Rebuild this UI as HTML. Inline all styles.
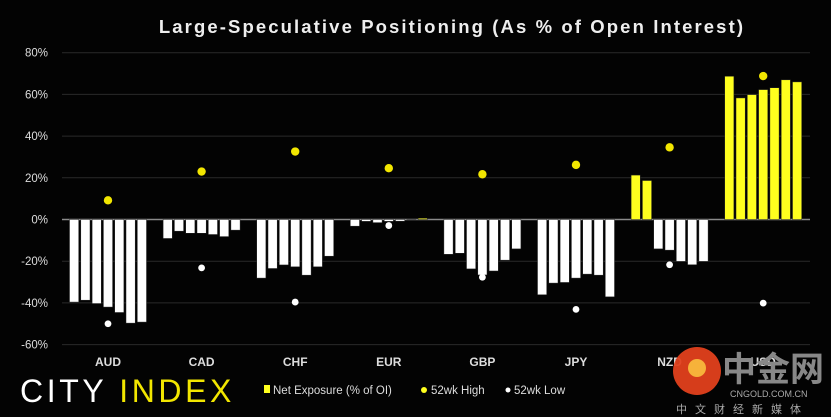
<!DOCTYPE html>
<html><head><meta charset="utf-8"><style>
html,body{margin:0;padding:0;background:#030303;width:831px;height:417px;overflow:hidden}
svg text{font-family:"Liberation Sans","Noto Sans CJK SC",sans-serif}
</style></head><body>
<svg id="chart" width="831" height="417" viewBox="0 0 831 417" xmlns="http://www.w3.org/2000/svg">
<rect width="831" height="417" fill="#030303"/>
<text x="452" y="33" text-anchor="middle" fill="#eee" font-size="18.5" font-weight="bold" letter-spacing="2.1">Large-Speculative Positioning (As % of Open Interest)</text>
<g id="grid"></g><g id="bars"></g><g id="dots"></g><g id="xlabels"></g>
<g>
<text x="20" y="402" fill="#fff" font-size="32" letter-spacing="3.6">CITY <tspan fill="#f2e600">INDEX</tspan></text>
</g>
<g font-size="11.5" fill="#ddd">
<g><rect x="264" y="385" width="6" height="8" fill="#ffff1e"/><text x="273" y="394" fill="#ddd">Net Exposure (% of OI)</text></g>
<g><circle cx="424" cy="390" r="3" fill="#ffff1e"/><text x="431" y="394" fill="#ddd">52wk High</text></g>
<g><circle cx="508" cy="390" r="2.5" fill="#fff"/><text x="514" y="394" fill="#ddd">52wk Low</text></g>
</g>
<g>
<circle cx="697" cy="371" r="24" fill="#e2401c" opacity="0.95"/>
<circle cx="697" cy="368" r="9" fill="#f6b23a"/>
<text x="722" y="381" fill="#888" font-size="34" font-weight="bold" font-family="'Noto Sans CJK SC',sans-serif">中金网</text>
<text x="730" y="397" fill="#aaa" font-size="9">CNGOLD.COM.CN</text>
<text x="676" y="413" fill="#aaa" font-size="11" letter-spacing="8" font-family="'Noto Sans CJK SC',sans-serif">中文财经新媒体</text>
</g>
</svg>
<script>
const categories=["AUD","CAD","CHF","EUR","GBP","JPY","NZD","USD"];
const netExposure=[
[-39.6,-38.7,-40.3,-42,-44.6,-49.7,-49.2],
[-9.1,-5.6,-6.6,-6.6,-7.2,-8.2,-5.1],
[-28.1,-23.5,-21.8,-22.7,-26.7,-22.7,-17.6],
[-3.2,-0.9,-1.5,-0.9,-0.8,0,0.6],
[-16.7,-16.2,-23.7,-26.6,-24.7,-19.5,-14.1],
[-36.1,-30.5,-30.2,-28.1,-26.2,-26.7,-37.1],
[21.3,18.7,-14.1,-14.7,-20.1,-21.7,-20.1],
[68.7,58.3,59.9,62.3,63.2,67.0,66.0]];
const high52=[9.2,23,32.6,24.6,21.7,26.2,34.6,68.8];
const low52=[-50,-23.2,-39.6,-2.9,-27.7,-43.1,-21.7,-40.1];
const yTicks=[80,60,40,20,0,-20,-40,-60];
const NS="http://www.w3.org/2000/svg";
const y=v=>219.5-v*2.085;
const gx=g=>108+g*93.6;
function mk(tag,attrs,parent){const e=document.createElementNS(NS,tag);for(const k in attrs)e.setAttribute(k,attrs[k]);document.getElementById(parent).appendChild(e);return e;}
yTicks.forEach(t=>{
 const l=mk("line",{x1:62,x2:810,y1:y(t),y2:y(t),stroke:t===0?"#8a8a8a":"#2a2a2a","stroke-width":t===0?1.5:1},"grid");
 
 
 const tx=mk("text",{x:48,y:y(t)+4,"text-anchor":"end",fill:"#ddd","font-size":11.5},"grid");
 tx.textContent=t+"%";
 
 
});
categories.forEach((c,g)=>{
 netExposure[g].forEach((v,i)=>{
  const x=gx(g)+(i-3)*11.3-4.6;
  const top=Math.min(y(v),y(0)),h=Math.abs(y(v)-y(0));
  const r=mk("rect",{x:x,y:top,width:9.2,height:Math.max(h,0.01),fill:v>=0?"#ffff1e":"#fff",stroke:"#222","stroke-width":0.5},"bars");
  
  
 });
 const hd=mk("circle",{cx:gx(g),cy:y(high52[g]),r:4.2,fill:"#f2e600"},"dots");
 
 
 const ld=mk("circle",{cx:gx(g),cy:y(low52[g]),r:3.4,fill:"#fff"},"dots");
 
 
 const lb=mk("text",{x:gx(g),y:366,"text-anchor":"middle",fill:"#ddd","font-size":12,"font-weight":"bold"},"xlabels");
 lb.textContent=c;
 
 
});
</script>
</body></html>
